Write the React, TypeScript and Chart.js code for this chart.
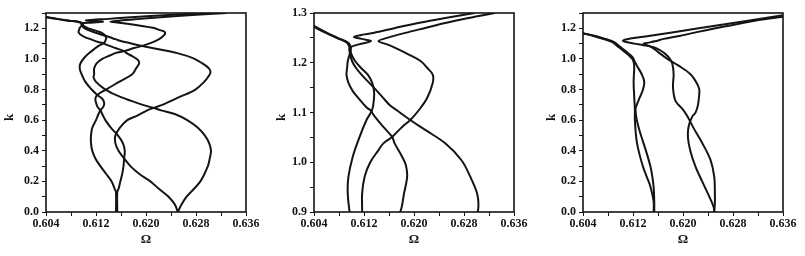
import React, { useEffect, useRef } from 'react';
import { Chart, registerables } from 'chart.js';

Chart.register(...registerables);

// ---------- Panels 1 & 2: four branches, k versus Omega ----------
const modeAK = [0, 0.13, 0.15, 0.2, 0.25, 0.3, 0.35, 0.4, 0.45, 0.5, 0.55, 0.6, 0.64, 0.664, 0.69, 0.715, 0.74, 0.765, 0.8, 0.85, 0.9, 0.937, 0.97, 1.011, 1.051, 1.085, 1.105, 1.129, 1.143, 1.16, 1.176, 1.19, 1.203, 1.217, 1.23, 1.24, 1.25, 1.26, 1.272];
const modeAW = [0.6152, 0.6152, 0.615, 0.6145, 0.6136, 0.6127, 0.6119, 0.6114, 0.6112, 0.6112, 0.6114, 0.612, 0.6124, 0.6127, 0.6132, 0.6133, 0.613, 0.6122, 0.6113, 0.6103, 0.6097, 0.6094, 0.6095, 0.6102, 0.6113, 0.6124, 0.6133, 0.6136, 0.6136, 0.6133, 0.6126, 0.6115, 0.6106, 0.61, 0.6097, 0.6093, 0.6076, 0.6059, 0.604];

const modeBK = [0, 0.05, 0.1, 0.2, 0.3, 0.35, 0.4, 0.45, 0.5, 0.55, 0.6, 0.64, 0.664, 0.68, 0.7, 0.75, 0.8, 0.85, 0.88, 0.9, 0.937, 0.971, 1.0, 1.024, 1.038, 1.051, 1.071, 1.085, 1.105, 1.129, 1.16, 1.176, 1.19, 1.203, 1.217, 1.23, 1.237, 1.2435, 1.25, 1.26, 1.27, 1.28, 1.29, 1.3];
const modeBW = [0.6251, 0.6257, 0.6265, 0.6287, 0.6299, 0.6302, 0.6304, 0.6301, 0.6294, 0.6283, 0.6266, 0.6246, 0.6224, 0.6212, 0.6195, 0.616, 0.6135, 0.612, 0.6116, 0.6117, 0.6117, 0.6121, 0.613, 0.6143, 0.6151, 0.6165, 0.6181, 0.6194, 0.6208, 0.6221, 0.623, 0.623, 0.6221, 0.6211, 0.6191, 0.617, 0.6157, 0.6143, 0.6157, 0.6186, 0.6218, 0.625, 0.6287, 0.6329];

const modeCK = [0, 0.13, 0.15, 0.2, 0.25, 0.3, 0.35, 0.4, 0.45, 0.5, 0.55, 0.6, 0.64, 0.664, 0.69, 0.715, 0.74, 0.765, 0.8, 0.85, 0.9, 0.937, 0.971, 0.994, 1.011, 1.038, 1.051, 1.071, 1.092, 1.105, 1.109, 1.129, 1.143, 1.16, 1.176, 1.19, 1.203, 1.217, 1.23, 1.24, 1.25, 1.26, 1.274];
const modeCW = [0.6154, 0.6154, 0.6156, 0.6159, 0.6162, 0.6164, 0.6165, 0.6166, 0.6163, 0.6155, 0.6144, 0.6135, 0.613, 0.6127, 0.6122, 0.612, 0.6119, 0.6122, 0.6136, 0.6157, 0.6178, 0.6184, 0.6189, 0.6187, 0.6181, 0.6169, 0.6165, 0.6151, 0.6137, 0.613, 0.6125, 0.6111, 0.6102, 0.6095, 0.6092, 0.6093, 0.6094, 0.6097, 0.6099, 0.6095, 0.6078, 0.6061, 0.604];

const modeDK = [0, 0.05, 0.1, 0.15, 0.2, 0.25, 0.3, 0.35, 0.4, 0.45, 0.5, 0.55, 0.6, 0.63, 0.664, 0.68, 0.7, 0.75, 0.8, 0.85, 0.88, 0.91, 0.937, 0.971, 1.004, 1.038, 1.065, 1.085, 1.105, 1.115, 1.129, 1.143, 1.16, 1.176, 1.19, 1.203, 1.217, 1.23, 1.237, 1.2435, 1.248, 1.252, 1.257, 1.26, 1.27, 1.28, 1.29, 1.3];
const modeDW = [0.6251, 0.6246, 0.6236, 0.6221, 0.6207, 0.6189, 0.6175, 0.6165, 0.6156, 0.6151, 0.6151, 0.6158, 0.617, 0.6186, 0.6202, 0.6212, 0.6226, 0.6253, 0.6279, 0.6293, 0.6299, 0.6303, 0.6301, 0.629, 0.6276, 0.625, 0.6218, 0.6194, 0.6172, 0.6161, 0.6151, 0.6141, 0.6128, 0.6116, 0.6107, 0.6101, 0.6098, 0.6097, 0.6112, 0.6131, 0.6116, 0.6104, 0.612, 0.6135, 0.617, 0.6207, 0.625, 0.6297];

// ---------- Panel 3: four branches ----------
const thirdAK = [0, 0.07, 0.164, 0.23, 0.296, 0.383, 0.46, 0.537, 0.603, 0.669, 0.75, 0.85, 0.95, 0.98, 1.0, 1.021, 1.045, 1.065, 1.087, 1.11, 1.13, 1.15, 1.168];
const thirdAW = [0.6153, 0.6153, 0.6148, 0.6142, 0.6136, 0.613, 0.6126, 0.6124, 0.6123, 0.6123, 0.6122, 0.6121, 0.6122, 0.6121, 0.6119, 0.6114, 0.6107, 0.6101, 0.6094, 0.6087, 0.6073, 0.6057, 0.604];

const thirdBK = [0, 0.07, 0.164, 0.23, 0.296, 0.383, 0.46, 0.537, 0.603, 0.669, 0.7, 0.75, 0.8, 0.85, 0.9, 0.95, 0.98, 1.0, 1.021, 1.045, 1.065, 1.087, 1.11, 1.13, 1.15, 1.166];
const thirdBW = [0.6154, 0.6154, 0.6153, 0.6151, 0.6148, 0.6142, 0.6136, 0.613, 0.6126, 0.6124, 0.6126, 0.6131, 0.6136, 0.6138, 0.6134, 0.6127, 0.6123, 0.6121, 0.6117, 0.611, 0.6104, 0.6097, 0.609, 0.6076, 0.606, 0.604];

const thirdCK = [0, 0.06, 0.12, 0.23, 0.34, 0.449, 0.548, 0.625, 0.669, 0.726, 0.813, 0.9, 0.967, 1.0, 1.032, 1.055, 1.076, 1.09, 1.1, 1.11, 1.118, 1.125, 1.135, 1.15, 1.2, 1.25, 1.285];
const thirdCW = [0.625, 0.6251, 0.6251, 0.625, 0.6244, 0.6231, 0.6217, 0.6207, 0.62, 0.6188, 0.6184, 0.6185, 0.6183, 0.6179, 0.6172, 0.6164, 0.6153, 0.6137, 0.6122, 0.6109, 0.6104, 0.6107, 0.6118, 0.6145, 0.6225, 0.6304, 0.636];

const thirdDK = [0, 0.033, 0.11, 0.197, 0.296, 0.395, 0.482, 0.559, 0.625, 0.649, 0.7, 0.77, 0.8, 0.835, 0.9, 0.956, 1.0, 1.043, 1.08, 1.098, 1.105, 1.115, 1.131, 1.15, 1.175, 1.2, 1.219, 1.25, 1.275];
const thirdDW = [0.625, 0.6249, 0.6241, 0.6231, 0.622, 0.6212, 0.6208, 0.6209, 0.6215, 0.622, 0.6224, 0.6226, 0.6226, 0.6223, 0.6212, 0.6193, 0.6175, 0.6161, 0.6148, 0.6137, 0.6143, 0.6155, 0.6169, 0.6194, 0.6222, 0.6252, 0.6276, 0.6315, 0.636];

// ---------- Ticks ----------
const xTickValues = [0.604, 0.608, 0.612, 0.616, 0.62, 0.624, 0.628, 0.632, 0.636];
const xTickLabels = ['0.604', '', '0.612', '', '0.620', '', '0.628', '', '0.636'];
const yFullValues = [0, 0.1, 0.2, 0.3, 0.4, 0.5, 0.6, 0.7, 0.8, 0.9, 1.0, 1.1, 1.2, 1.3];
const yFullLabels = ['0.0', '', '0.2', '', '0.4', '', '0.6', '', '0.8', '', '1.0', '', '1.2', ''];
const yZoomValues = [0.9, 0.95, 1.0, 1.05, 1.1, 1.15, 1.2, 1.25, 1.3];
const yZoomLabels = ['0.9', '', '1.0', '', '1.1', '', '1.2', '', '1.3'];

const INK = '#141414';
const tickFont = { family: '"Liberation Serif", "DejaVu Serif", serif', size: 12, weight: 'bold' as const };
const titleFont = { family: '"Liberation Serif", "DejaVu Serif", serif', size: 13, weight: 'bold' as const };

const framePlugin = {
  id: 'frame',
  afterDatasetsDraw(chart: any) {
    const { ctx, chartArea: a } = chart;
    ctx.save();
    ctx.strokeStyle = INK;
    ctx.lineWidth = 1.6;
    ctx.strokeRect(a.left, a.top, a.right - a.left, a.bottom - a.top);
    ctx.restore();
  },
};

type Curve = { k: number[]; w: number[] };

function Panel(props: {
  left: number;
  curves: Curve[];
  yMin: number;
  yMax: number;
  yValues: number[];
  yLabels: string[];
  kPad: number;
}) {
  const ref = useRef<HTMLCanvasElement | null>(null);
  useEffect(() => {
    const { curves, yMin, yMax, yValues, yLabels, kPad } = props;
    const chart = new Chart(ref.current as HTMLCanvasElement, {
      type: 'scatter',
      data: {
        datasets: curves.map((c) => ({
          data: c.k.map((k, i) => ({ x: c.w[i], y: k })),
          showLine: true,
          borderColor: INK,
          borderWidth: 2,
          pointRadius: 0,
          tension: 0.35,
          fill: false,
        })),
      },
      options: {
        animation: false,
        responsive: false,
        devicePixelRatio: 1,
        layout: { padding: { top: 13, right: 22, bottom: 0, left: 0 } },
        plugins: { legend: { display: false }, tooltip: { enabled: false } },
        scales: {
          x: {
            type: 'linear',
            min: 0.604,
            max: 0.636,
            afterBuildTicks: (s: any) => {
              s.ticks = xTickValues.map((v) => ({ value: v }));
            },
            afterFit: (s: any) => {
              s.height = 44;
            },
            ticks: {
              autoSkip: false,
              maxRotation: 0,
              padding: 1,
              color: INK,
              font: tickFont,
              callback: (_v: any, i: number) => xTickLabels[i],
            },
            grid: { drawOnChartArea: false, drawTicks: true, tickLength: 4, color: INK },
            border: { display: false },
            title: { display: true, text: 'Ω', color: INK, font: titleFont, padding: { top: 0, bottom: 9 } },
          },
          y: {
            type: 'linear',
            min: yMin,
            max: yMax,
            afterBuildTicks: (s: any) => {
              s.ticks = yValues.map((v) => ({ value: v }));
            },
            afterFit: (s: any) => {
              s.width = 46;
            },
            ticks: {
              autoSkip: false,
              padding: 3,
              color: INK,
              font: tickFont,
              callback: (_v: any, i: number) => yLabels[i],
            },
            grid: { drawOnChartArea: false, drawTicks: true, tickLength: 4, color: INK },
            border: { display: false },
            title: { display: true, text: 'k   ', color: INK, font: titleFont, padding: { top: kPad, bottom: 0 } },
          },
        },
      } as any,
      plugins: [framePlugin],
    });
    return () => chart.destroy();
  }, []);
  return (
    <canvas
      ref={ref}
      width={268}
      height={256}
      style={{ position: 'absolute', left: props.left, top: 0, width: 268, height: 256 }}
    />
  );
}

const firstCurves: Curve[] = [
  { k: modeAK, w: modeAW },
  { k: modeBK, w: modeBW },
  { k: modeCK, w: modeCW },
  { k: modeDK, w: modeDW },
];
const thirdCurves: Curve[] = [
  { k: thirdAK, w: thirdAW },
  { k: thirdBK, w: thirdBW },
  { k: thirdCK, w: thirdCW },
  { k: thirdDK, w: thirdDW },
];

export default function App() {
  return (
    <div style={{ position: 'absolute', left: 0, top: 0, width: 805, height: 256, background: '#fff', overflow: 'hidden' }}>
      <Panel left={0} curves={firstCurves} yMin={0} yMax={1.3} yValues={yFullValues} yLabels={yFullLabels} kPad={2.2} />
      <Panel left={268} curves={firstCurves} yMin={0.9} yMax={1.3} yValues={yZoomValues} yLabels={yZoomLabels} kPad={5.9} />
      <Panel left={537} curves={thirdCurves} yMin={0} yMax={1.3} yValues={yFullValues} yLabels={yFullLabels} kPad={6.9} />
    </div>
  );
}
